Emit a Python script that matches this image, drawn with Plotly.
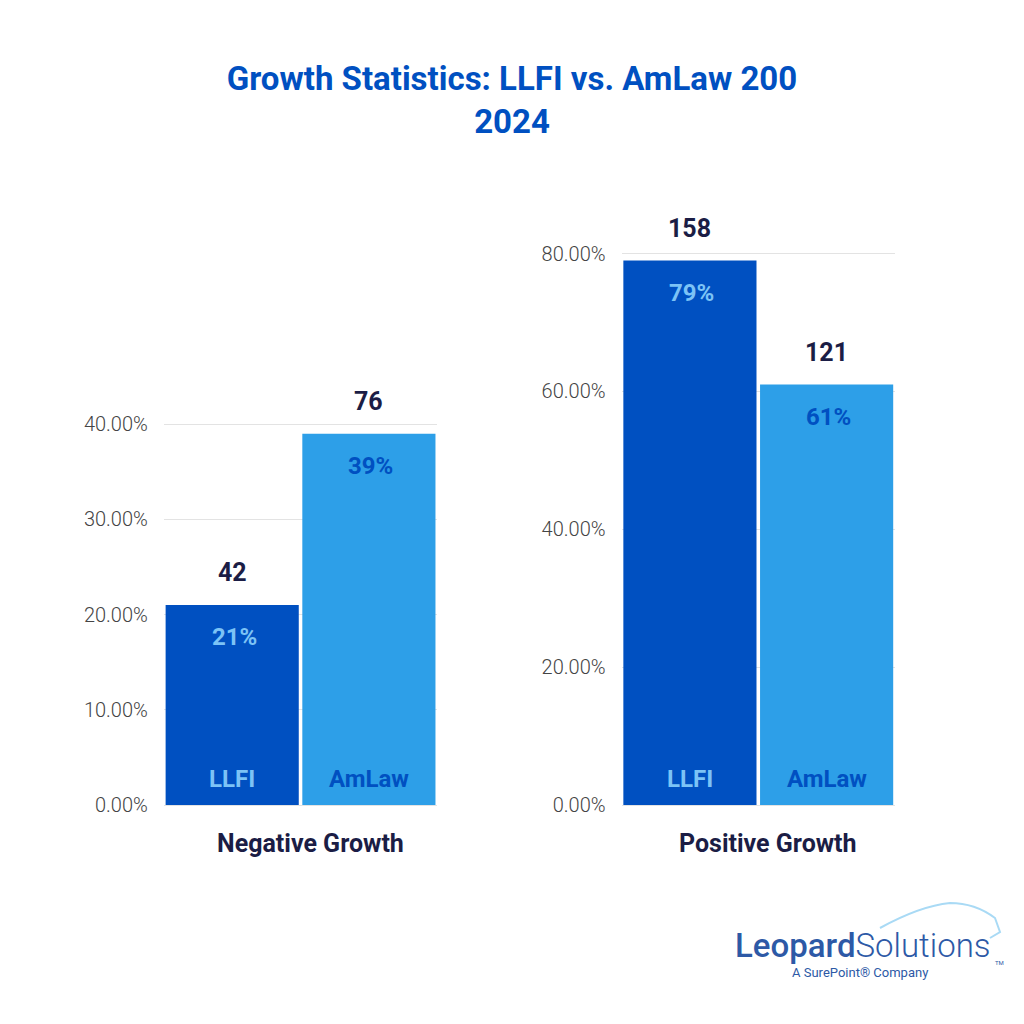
import plotly.graph_objects as go

# ---- data ----
groups = ["Negative Growth", "Positive Growth"]
series = ["LLFI", "AmLaw"]
neg_pct = [0.21, 0.39]
pos_pct = [0.79, 0.61]
neg_count = [42, 76]
pos_count = [158, 121]
neg_ticks = [0, 0.1, 0.2, 0.3, 0.4]
pos_ticks = [0, 0.2, 0.4, 0.6, 0.8]

bar_colors = ["#0050c1", "#2d9fe8"]
inner_colors = ["#7cc3f6", "#0050c1"]
navy = "#1b1d45"
W = H = 1024

fig = go.Figure()

panels = [
    ("x", "y", neg_pct, neg_count, neg_ticks, [0.160, 0.427], [1 - 805 / H, 1 - 423 / H], groups[0]),
    ("x2", "y2", pos_pct, pos_count, pos_ticks, [0.607, 0.874], [1 - 805 / H, 1 - 252 / H], groups[1]),
]

for i, (xa, ya, pct, cnt, ticks, xdom, ydom, gname) in enumerate(panels):
    fig.add_trace(go.Bar(
        x=series, y=pct, xaxis=xa, yaxis=ya,
        marker=dict(color=bar_colors, line=dict(width=0)),
        showlegend=False, hoverinfo="skip",
    ))
    sfx = "" if i == 0 else "2"
    top = ticks[-1] * 1.003
    fig.update_layout(**{
        "xaxis" + sfx: dict(domain=xdom, anchor=ya, showticklabels=False, showgrid=False,
                            zeroline=False, showline=False, ticks="", automargin=False),
        "yaxis" + sfx: dict(domain=ydom, anchor=xa, range=[0, top], tickvals=ticks,
                            tickformat=".2%", showgrid=True, gridcolor="#e3e3e3", gridwidth=1,
                            zeroline=True, zerolinecolor="#e3e3e3", zerolinewidth=1,
                            showline=False, ticks="", ticklabelstandoff=15, automargin=False,
                            tickfont=dict(family="Roboto", size=20, color="#444444", weight=300)),
    })
    for j, s in enumerate(series):
        # count above bar
        fig.add_annotation(x=s, y=pct[j], xref=xa, yref=ya, text=f"<b>{cnt[j]}</b>",
                           showarrow=False, yanchor="bottom", yshift=16,
                           font=dict(family="Roboto", size=25, color=navy))
        # percent inside top
        fig.add_annotation(x=s, y=pct[j], xref=xa, yref=ya, text=f"<b>{round(pct[j]*100)}%</b>",
                           showarrow=False, yanchor="top", yshift=-16, xshift=2,
                           font=dict(family="Roboto", size=24, color=inner_colors[j]))
        # series name at bottom
        fig.add_annotation(x=s, y=0, xref=xa, yref=ya, text=f"<b>{s}</b>",
                           showarrow=False, yanchor="bottom", yshift=10,
                           font=dict(family="Roboto", size=24, color=inner_colors[j]))
    # group label
    fig.add_annotation(x=0.5, y=1 - 843 / H, xref=xa + " domain", yref="paper", text=f"<b>{gname}</b>",
                       showarrow=False, yanchor="middle", xshift=10,
                       font=dict(family="Roboto", size=25, color=navy))

# logo
fig.add_annotation(x=733 / W, y=1 - 945 / H, xref="paper", yref="paper", xanchor="left", yanchor="middle",
                   text="<span style='font-weight:500'>Leopard</span><span style='font-weight:300'>Solutions</span>",
                   showarrow=False, font=dict(family="Roboto", size=33, color="#2d59a6"))
fig.add_annotation(x=993 / W, y=1 - 962 / H, xref="paper", yref="paper", text="TM", showarrow=False,
                   xanchor="left", yanchor="middle",
                   font=dict(family="Roboto", size=6, color="#2d59a6"))
fig.add_annotation(x=860 / W, y=1 - 972 / H, xref="paper", yref="paper", xanchor="center", yanchor="middle",
                   text="A SurePoint® Company", showarrow=False,
                   font=dict(family="Roboto", size=13, color="#2d59a6"))
fig.add_shape(type="path", xref="paper", yref="paper",
              path=f"M {880/W},{1-928/H} Q {920/W},{1-906/H} {950/W},{1-903/H} "
                   f"Q {975/W},{1-903/H} {995/W},{1-918/H} L {1000/W},{1-932/H} L {990/W},{1-938/H}",
              line=dict(color="#a9daf5", width=2))

fig.update_layout(
    width=W, height=H,
    margin=dict(l=0, r=0, t=0, b=0, pad=0, autoexpand=False),
    paper_bgcolor="white", plot_bgcolor="white",
    bargap=0.026,
    title=dict(text="<b>Growth Statistics: LLFI vs. AmLaw 200<br>2024</b>",
               x=0.5, xanchor="center", y=1 - 90 / H, yanchor="middle",
               yref="container", automargin=False,
               font=dict(family="Roboto", size=33, color="#0050c1")),
)

fig.write_html("out.html", config={"displayModeBar": False},
               post_script="document.body.style.margin='0px';document.body.style.padding='0px';")
